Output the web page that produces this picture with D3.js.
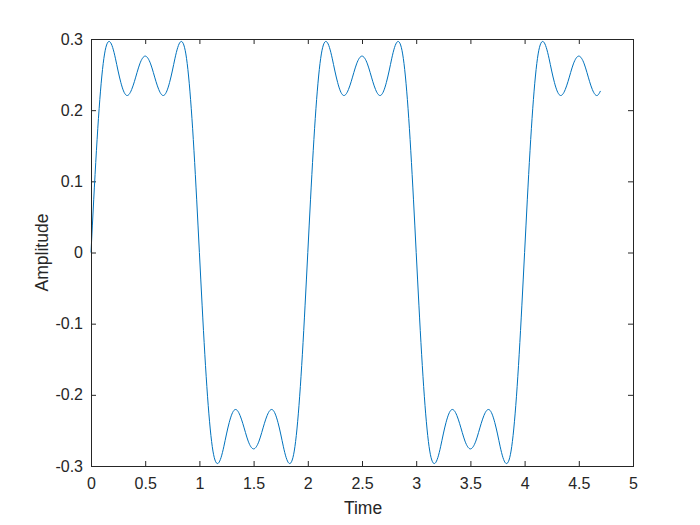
<!DOCTYPE html>
<html>
<head>
<meta charset="utf-8">
<script src="https://d3js.org/d3.v7.min.js"></script>
<style>
  body { margin: 0; background: #fff; }
  svg { display: block; }
  text { font-family: "Liberation Sans", Arial, sans-serif; }
  .tick text { fill: #262626; font-size: 16px; }
  .tick line { stroke: #262626; }
</style>
</head>
<body>
<svg width="700" height="525"></svg>
<script>
// sample spacing of the curve (time units)
var tStep = 0.025;

// amplitude, every 0.025 s from 0 to 4.7
var amplitude = [
  0.000, 0.074, 0.143, 0.202, 0.248, 0.279, 0.294, 0.296, 0.288, 0.273,
  0.255, 0.239, 0.227, 0.221, 0.222, 0.229, 0.240, 0.253, 0.265, 0.273,
  0.276, 0.273, 0.265, 0.253, 0.240, 0.229, 0.222, 0.221, 0.227, 0.239,
  0.255, 0.273, 0.288, 0.296, 0.294, 0.279, 0.248, 0.202, 0.143, 0.074,
  0.000, -0.074, -0.143, -0.202, -0.248, -0.279, -0.294, -0.296, -0.288, -0.273,
  -0.255, -0.239, -0.227, -0.221, -0.222, -0.229, -0.240, -0.253, -0.265, -0.273,
  -0.276, -0.273, -0.265, -0.253, -0.240, -0.229, -0.222, -0.221, -0.227, -0.239,
  -0.255, -0.273, -0.288, -0.296, -0.294, -0.279, -0.248, -0.202, -0.143, -0.074,
  0.000, 0.074, 0.143, 0.202, 0.248, 0.279, 0.294, 0.296, 0.288, 0.273,
  0.255, 0.239, 0.227, 0.221, 0.222, 0.229, 0.240, 0.253, 0.265, 0.273,
  0.276, 0.273, 0.265, 0.253, 0.240, 0.229, 0.222, 0.221, 0.227, 0.239,
  0.255, 0.273, 0.288, 0.296, 0.294, 0.279, 0.248, 0.202, 0.143, 0.074,
  0.000, -0.074, -0.143, -0.202, -0.248, -0.279, -0.294, -0.296, -0.288, -0.273,
  -0.255, -0.239, -0.227, -0.221, -0.222, -0.229, -0.240, -0.253, -0.265, -0.273,
  -0.276, -0.273, -0.265, -0.253, -0.240, -0.229, -0.222, -0.221, -0.227, -0.239,
  -0.255, -0.273, -0.288, -0.296, -0.294, -0.279, -0.248, -0.202, -0.143, -0.074,
  0.000, 0.074, 0.143, 0.202, 0.248, 0.279, 0.294, 0.296, 0.288, 0.273,
  0.255, 0.239, 0.227, 0.221, 0.222, 0.229, 0.240, 0.253, 0.265, 0.273,
  0.276, 0.273, 0.265, 0.253, 0.240, 0.229, 0.222, 0.221, 0.227
];

var xTicks = [0, 0.5, 1, 1.5, 2, 2.5, 3, 3.5, 4, 4.5, 5];
var yTicks = [-0.3, -0.2, -0.1, 0, 0.1, 0.2, 0.3];

var svg = d3.select("svg");
var plotLeft = 91, plotRight = 633, plotTop = 39, plotBottom = 466;

var x = d3.scaleLinear().domain([0, 5]).range([plotLeft, plotRight]);
var y = d3.scaleLinear().domain([-0.3, 0.3]).range([plotBottom, plotTop]);

var data = amplitude.map(function(v, i) { return { t: i * tStep, a: v }; });

// plain hyphen minus, like matlab labels
function fmt(d) { return String(d); }

function tidy(g) {
  g.select(".domain").remove();
  g.attr("font-family", null).attr("font-size", null);
}

// axes (ticks pointing inward like matlab)
svg.append("g")
    .attr("transform", "translate(0," + plotBottom + ")")
    .call(d3.axisBottom(x).tickValues(xTicks).tickSize(-5).tickPadding(12)
      .tickFormat(fmt))
    .call(tidy);

svg.append("g")
    .attr("transform", "translate(0," + plotTop + ")")
    .call(d3.axisTop(x).tickValues(xTicks).tickSize(-5).tickFormat(""))
    .call(tidy);

svg.append("g")
    .attr("transform", "translate(" + plotLeft + ",0)")
    .call(d3.axisLeft(y).tickValues(yTicks).tickSize(-5).tickPadding(8)
      .tickFormat(fmt))
    .call(tidy);

svg.append("g")
    .attr("transform", "translate(" + plotRight + ",0)")
    .call(d3.axisRight(y).tickValues(yTicks).tickSize(-5).tickFormat(""))
    .call(tidy);

// the curve
var line = d3.line()
    .x(function(d) { return x(d.t); })
    .y(function(d) { return y(d.a); })
    .curve(d3.curveNatural);

svg.append("path")
    .datum(data)
    .attr("fill", "none")
    .attr("stroke", "#0072BD")
    .attr("stroke-width", 1)
    .attr("d", line);

// box
svg.append("rect")
    .attr("x", plotLeft + 0.5).attr("y", plotTop + 0.5)
    .attr("width", plotRight - plotLeft).attr("height", plotBottom - plotTop)
    .attr("fill", "none")
    .attr("stroke", "#262626")
    .attr("stroke-width", 1);

svg.append("text")
    .attr("x", (plotLeft + plotRight) / 2 + 1)
    .attr("y", 514)
    .attr("text-anchor", "middle")
    .attr("fill", "#262626")
    .style("font-size", "17.5px")
    .text("Time");

svg.append("text")
    .attr("transform", "translate(48," + ((plotTop + plotBottom) / 2) + ") rotate(-90)")
    .attr("text-anchor", "middle")
    .attr("fill", "#262626")
    .style("font-size", "17.5px")
    .text("Amplitude");
</script>
</body>
</html>
